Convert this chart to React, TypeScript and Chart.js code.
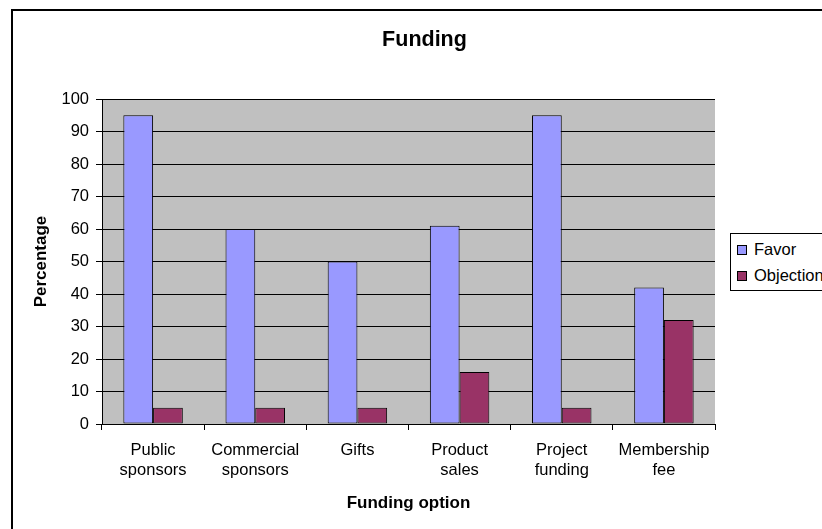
import React, { useEffect, useRef } from "react";
import { Chart, registerables } from "chart.js";

Chart.register(...registerables);

const categories: string[][] = [
  ["Public", "sponsors"],
  ["Commercial", "sponsors"],
  ["Gifts"],
  ["Product", "sales"],
  ["Project", "funding"],
  ["Membership", "fee"],
];
const favorValues = [95, 60, 50, 61, 95, 42];
const objectionValues = [5, 5, 5, 16, 5, 32];
const seriesNames = ["Favor", "Objection"];
const seriesColors = ["#9999FF", "#993366"];
const yMin = 0;
const yMax = 100;
const yStep = 10;
const chartTitle = "Funding";
const xTitle = "Funding option";
const yTitle = "Percentage";

const FONT = "'Liberation Sans', Arial, Helvetica, sans-serif";

export default function App() {
  const ref = useRef<HTMLCanvasElement>(null);

  useEffect(() => {
    const canvas = ref.current!;
    const bgPlugin = {
      id: "bgPlugin",
      beforeDraw(chart: any) {
        const { ctx, chartArea: a } = chart;
        ctx.save();
        ctx.fillStyle = "#ffffff";
        ctx.fillRect(0, 0, chart.width, chart.height);
        ctx.strokeStyle = "#000000";
        ctx.lineWidth = 2;
        ctx.strokeRect(12, 10, chart.width + 40, chart.height + 40);
        ctx.fillStyle = "#C0C0C0";
        ctx.fillRect(a.left, a.top, a.right - a.left, a.bottom - a.top);
        ctx.restore();
      },
    };

    const chart = new Chart(canvas, {
      type: "bar",
      data: {
        labels: categories as any,
        datasets: [
          {
            label: seriesNames[0],
            data: favorValues,
            backgroundColor: seriesColors[0],
            borderColor: "#000000",
            borderWidth: 1,
            borderSkipped: false,
            categoryPercentage: 0.582,
            barPercentage: 1,
          },
          {
            label: seriesNames[1],
            data: objectionValues,
            backgroundColor: seriesColors[1],
            borderColor: "#000000",
            borderWidth: 1,
            borderSkipped: false,
            categoryPercentage: 0.582,
            barPercentage: 1,
          },
        ],
      },
      options: {
        responsive: false,
        animation: false,
        events: [],
        layout: { padding: 0 },
        plugins: {
          legend: { display: false },
          tooltip: { enabled: false },
          title: {
            display: true,
            text: chartTitle,
            color: "#000000",
            font: { family: FONT, size: 21.5, weight: "bold", lineHeight: 1.2 },
            padding: { top: 27, bottom: 46.2 },
          },
        },
        scales: {
          x: {
            offset: true,
            grid: {
              display: true,
              offset: true,
              drawOnChartArea: false,
              drawTicks: true,
              tickLength: 6,
              color: "#000000",
            },
            border: { display: true, color: "#000000", width: 1 },
            ticks: {
              color: "#000000",
              font: { family: FONT, size: 16.5, lineHeight: 1.25 },
              padding: 10,
              maxRotation: 0,
              autoSkip: false,
            },
            title: {
              display: true,
              text: xTitle,
              color: "#000000",
              font: { family: FONT, size: 17, weight: "bold", lineHeight: 1.2 },
              padding: { top: 0, bottom: 15.3 },
            },
            afterFit: (s: any) => {
              s.height = 105;
            },
          },
          y: {
            min: yMin,
            max: yMax,
            ticks: {
              stepSize: yStep,
              color: "#000000",
              font: { family: FONT, size: 16.5 },
              padding: 7,
            },
            grid: { color: "#000000", tickLength: 6, lineWidth: 1 },
            border: { display: true, color: "#000000", width: 1 },
            title: {
              display: true,
              text: yTitle,
              color: "#000000",
              font: { family: FONT, size: 17, weight: "bold", lineHeight: 1.2 },
              padding: { top: 31, bottom: 0 },
            },
            afterFit: (s: any) => {
              s.width = 102;
            },
          },
          y2: {
            position: "right",
            display: true,
            grid: { display: false, drawTicks: false },
            ticks: { display: false },
            border: { display: false },
            afterFit: (s: any) => {
              s.width = 134;
            },
          },
        },
      } as any,
      plugins: [bgPlugin],
    });
    return () => chart.destroy();
  }, []);

  const legendItems = seriesNames.map((name, i) => (
    <div key={name}>
      <div
        style={{
          position: "absolute",
          left: 6,
          top: 11 + i * 26,
          width: 10,
          height: 10,
          boxSizing: "border-box",
          border: "1px solid #000",
          background: seriesColors[i],
        }}
      />
      <span
        style={{
          position: "absolute",
          left: 23,
          top: 5 + i * 26,
          fontFamily: FONT,
          fontSize: 16.5,
          lineHeight: "20px",
          color: "#000",
          whiteSpace: "nowrap",
        }}
      >
        {name}
      </span>
    </div>
  ));

  return (
    <div
      style={{
        position: "fixed",
        left: 0,
        top: 0,
        width: 822,
        height: 529,
        overflow: "hidden",
        background: "#fff",
      }}
    >
      <canvas ref={ref} width={849} height={529} style={{ display: "block" }} />
      <div
        style={{
          position: "absolute",
          left: 730,
          top: 233,
          width: 130,
          height: 58,
          boxSizing: "border-box",
          border: "1px solid #000",
          background: "#fff",
        }}
      >
        {legendItems}
      </div>
    </div>
  );
}
